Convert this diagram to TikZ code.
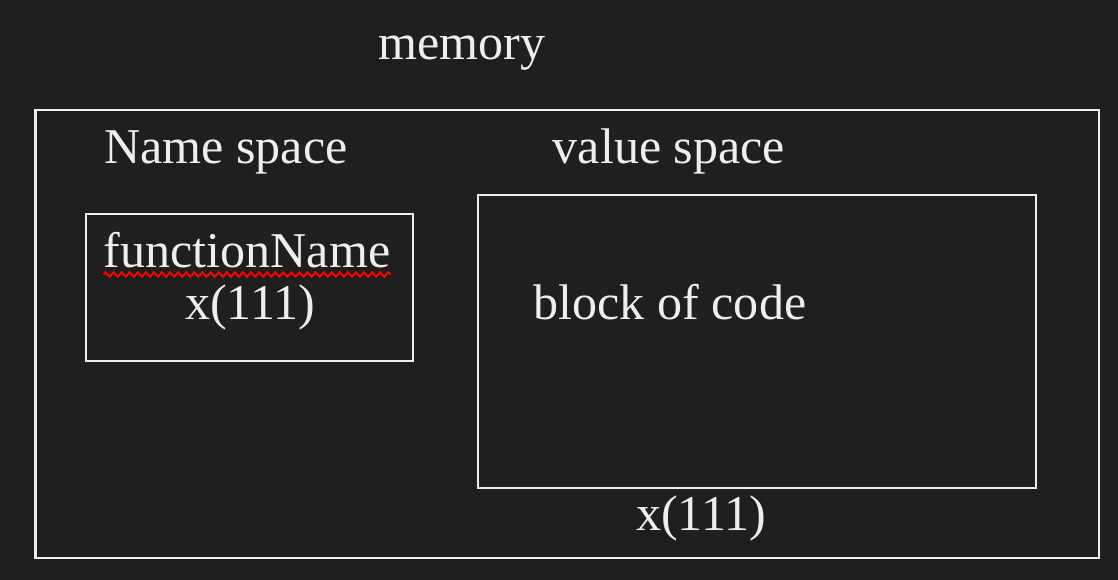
\documentclass[tikz,border=0pt]{standalone}
\usepackage{fontspec}
\setmainfont{Liberation Serif}
\usetikzlibrary{positioning,decorations.pathmorphing}
\definecolor{bgdark}{RGB}{32,31,30}
\definecolor{fgline}{RGB}{238,238,238}

\begin{document}
\begin{tikzpicture}[
  x=0.02cm, y=-0.02cm,
  box/.style={draw=fgline,line width=1.6pt,inner sep=0pt},
  lbl/.style={text=fgline,anchor=base,inner sep=0pt,font=\fontsize{28.5}{34}\selectfont},
  squig/.style={draw=red,line width=1.1pt,decorate,
    decoration={zigzag,amplitude=1.3pt,segment length=4.6pt}}]
  \fill[bgdark] (0,0) rectangle (1118,580);
  \useasboundingbox (0,0) rectangle (1118,580);
  % boxes
  \node[box,minimum width=21.28cm,minimum height=8.96cm] (memory) at (567,334) {};
  \node[box,minimum width=6.54cm,minimum height=2.94cm] (namebox) at (249.5,287.5) {};
  \node[box,minimum width=11.16cm,minimum height=5.86cm] (valbox) at (757,341.5) {};
  % labels
  \node[lbl] (memlbl) at (462,60) {memory};
  \node[lbl] (namelbl) at (226,164) {Name space};
  \node[lbl] (vallbl) at (669,164) {value space};
  \node[lbl] (fname) at (247,268) {functionName};
  \node[lbl] (xname) at (250,320) {x(111)};
  \node[lbl] (code) at (670,320) {block of code};
  \node[lbl] (xval) at (701,530) {x(111)};
  % spell-check mark
  \coordinate[below=1.3mm of fname.base west] (sq1);
  \coordinate[below=1.3mm of fname.base east] (sq2);
  \draw[squig] (sq1) -- (sq2);
\end{tikzpicture}
\end{document}
